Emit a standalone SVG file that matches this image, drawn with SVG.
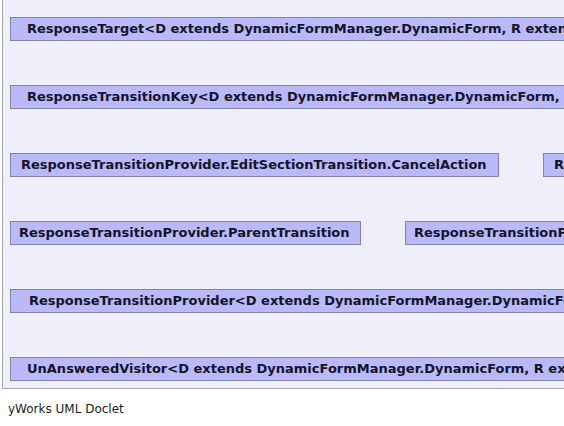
<svg xmlns="http://www.w3.org/2000/svg" width="564" height="426" viewBox="0 0 564 426">
  <style>
    .panel { fill: #efeffb; stroke: #a4a4b4; stroke-width: 1; }
    .box { fill: #b9b9fb; stroke: #8282b2; stroke-width: 1; }
    .lbl { font-family: "DejaVu Sans", sans-serif; font-weight: bold; font-size: 13px; fill: #141428; }
    .foot { font-family: "DejaVu Sans", sans-serif; font-size: 12px; fill: #222222; }
  </style>
  <rect class="panel" x="2.5" y="-2" width="600" height="390.5"/>
  <g id="connectors"/>
  <g id="node-response-target">
    <rect class="box" x="10.5" y="17.5" width="600" height="23"/>
    <text class="lbl" x="27" y="33">ResponseTarget&lt;D extends DynamicFormManager.DynamicForm, R extends DynamicFormManager.DynamicResponse&gt;</text>
  </g>
  <g id="node-response-transition-key">
    <rect class="box" x="10.5" y="85.5" width="600" height="23"/>
    <text class="lbl" x="27" y="101">ResponseTransitionKey&lt;D extends DynamicFormManager.DynamicForm, R extends DynamicFormManager.DynamicResponse&gt;</text>
  </g>
  <g id="node-cancel-action">
    <rect class="box" x="10.5" y="153.5" width="488" height="23"/>
    <text class="lbl" x="21" y="169">ResponseTransitionProvider.EditSectionTransition.CancelAction</text>
  </g>
  <g id="node-edit-section-transition">
    <rect class="box" x="543.5" y="153.5" width="300" height="23"/>
    <text class="lbl" x="554" y="169">ResponseTransitionProvider.EditSectionTransition</text>
  </g>
  <g id="node-parent-transition">
    <rect class="box" x="10.5" y="221.5" width="350" height="23"/>
    <text class="lbl" x="19" y="237">ResponseTransitionProvider.ParentTransition</text>
  </g>
  <g id="node-child-transition">
    <rect class="box" x="405.5" y="221.5" width="400" height="23"/>
    <text class="lbl" x="414" y="237">ResponseTransitionProvider.ChildTransition</text>
  </g>
  <g id="node-response-transition-provider">
    <rect class="box" x="10.5" y="289.5" width="600" height="23"/>
    <text class="lbl" x="29" y="305">ResponseTransitionProvider&lt;D extends DynamicFormManager.DynamicForm, R extends DynamicFormManager.DynamicResponse&gt;</text>
  </g>
  <g id="node-unanswered-visitor">
    <rect class="box" x="10.5" y="357.5" width="600" height="23"/>
    <text class="lbl" x="27" y="373">UnAnsweredVisitor&lt;D extends DynamicFormManager.DynamicForm, R extends DynamicFormManager.DynamicResponse&gt;</text>
  </g>
  <text class="foot" x="8" y="413">yWorks UML Doclet</text>
</svg>
